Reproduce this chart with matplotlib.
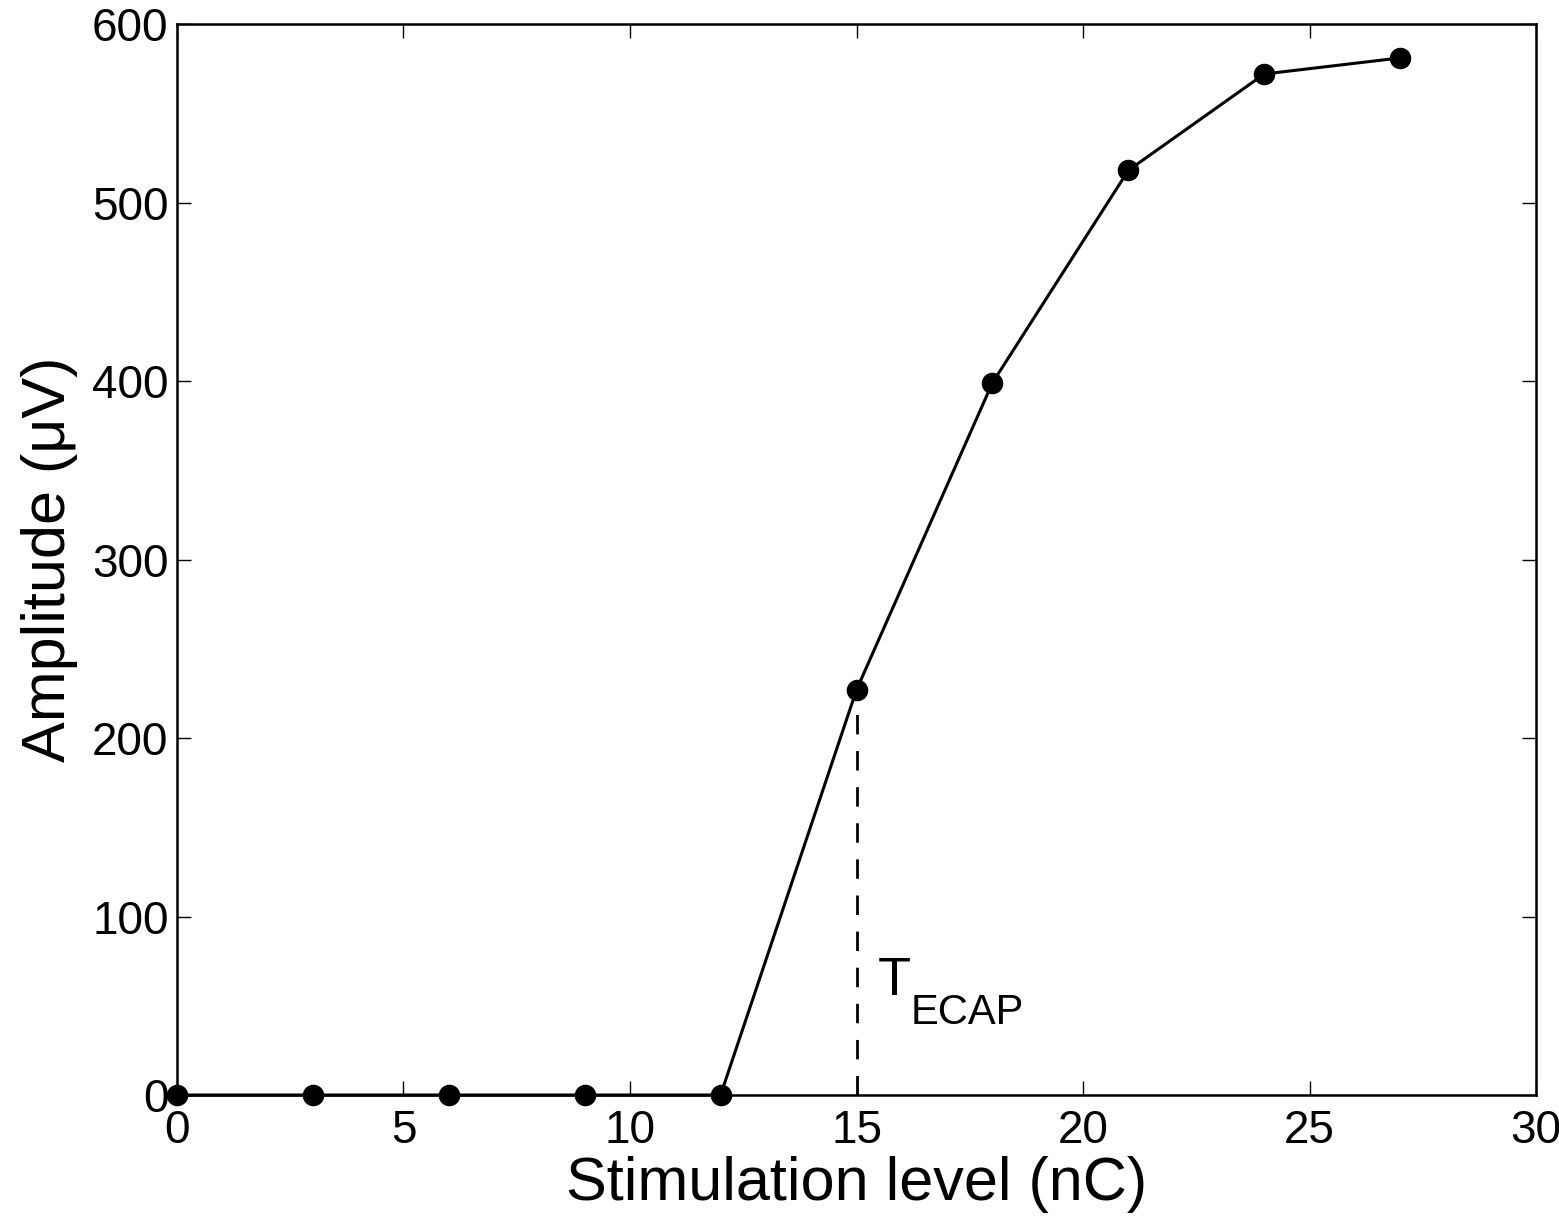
import matplotlib.pyplot as plt

plt.rcParams["font.family"] = ["Liberation Sans", "DejaVu Sans"]

stim_level = [0, 3, 6, 9, 12, 15, 18, 21, 24, 27]
amplitude = [0, 0, 0, 0, 0, 227, 399, 518, 572, 581]
t_ecap = 15
t_ecap_amp = 227

x_ticks = [0, 5, 10, 15, 20, 25, 30]
y_ticks = [0, 100, 200, 300, 400, 500, 600]

fig = plt.figure(figsize=(15.59, 12.25), dpi=100)
ax = fig.add_axes([0.1135, 0.1061, 0.8718, 0.8743])

ax.plot(stim_level, amplitude, color="black", linewidth=2.2,
        marker="o", markersize=14.5, clip_on=False, zorder=3)
# threshold marker
ax.plot([t_ecap, t_ecap], [0, t_ecap_amp], color="black", linewidth=2,
        linestyle=(0, (7, 6)), zorder=2)

ax.text(15.47, 56, "T", fontsize=39, ha="left", va="baseline")
ax.text(16.2, 40, "ECAP", fontsize=30, ha="left", va="baseline")

ax.set_xlim(0, 30)
ax.set_ylim(0, 600)
ax.set_xticks(x_ticks)
ax.set_yticks(y_ticks)
ax.tick_params(direction="in", length=10, width=1, labelsize=33,
               top=True, right=True)
ax.tick_params(axis="y", pad=6)
ax.tick_params(axis="x", pad=10)
for s in ax.spines.values():
    s.set_linewidth(1.8)

ax.set_xlabel("Stimulation level (nC)", fontsize=44, labelpad=2)
ax.set_ylabel("Amplitude (\u03bcV)", fontsize=44, labelpad=10)

fig.savefig("out.png", dpi=100)
